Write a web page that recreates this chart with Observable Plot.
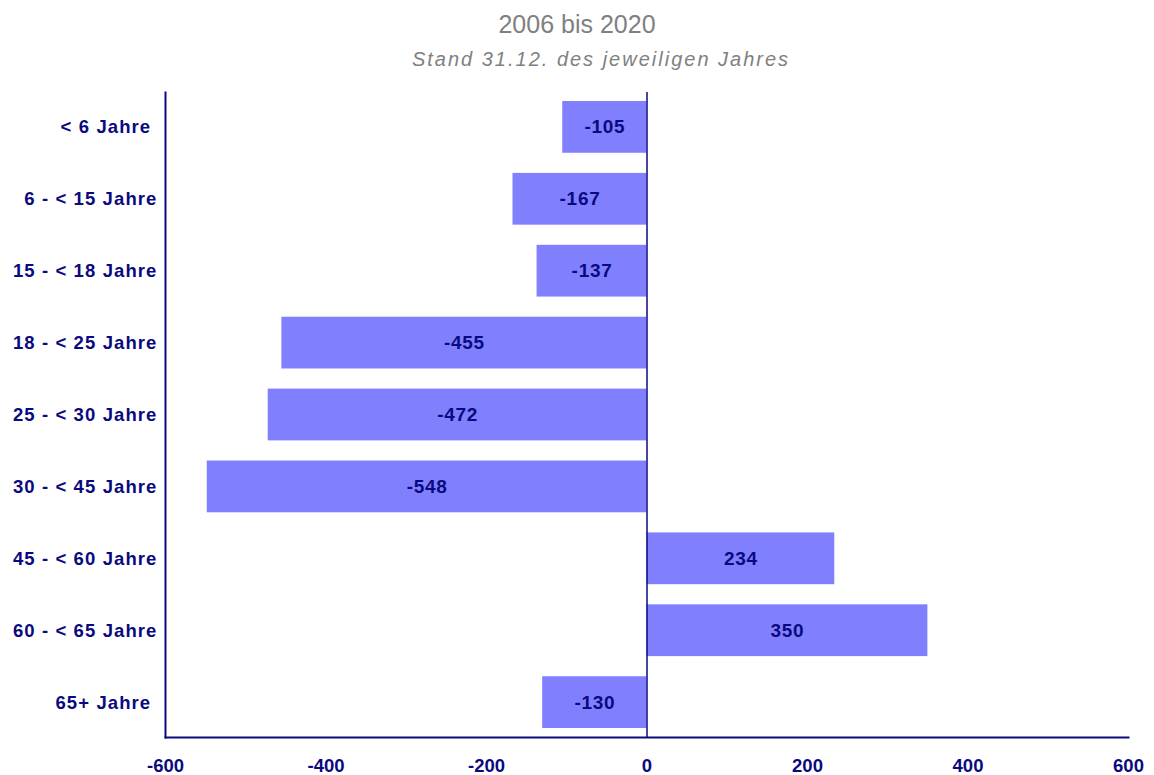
<!DOCTYPE html>
<html>
<head>
<meta charset="utf-8">
<script src="https://cdn.jsdelivr.net/npm/d3@7"></script>
<script src="https://cdn.jsdelivr.net/npm/@observablehq/plot@0.6"></script>
<style>
  html, body { margin: 0; padding: 0; background: #fff; }
  #header { width: 1154px; height: 80px; position: relative; font-family: "Liberation Sans", Arial, sans-serif; color: #808080; }
  #title { position: absolute; top: 9px; width: 100%; text-align: center; font-size: 25px; line-height: 30px; }
  #subtitle { position: absolute; top: 47px; left: 24px; width: 100%; text-align: center; font-size: 20px; line-height: 24px; font-style: italic; letter-spacing: 2px; }
  #chart svg text { font-family: "Liberation Sans", Arial, sans-serif; }
</style>
</head>
<body>
<div id="header">
  <div id="title">2006 bis 2020</div>
  <div id="subtitle">Stand 31.12. des jeweiligen Jahres</div>
</div>
<div id="chart"></div>
<script>
const categories = ["< 6 Jahre", "6 - < 15 Jahre", "15 - < 18 Jahre", "18 - < 25 Jahre", "25 - < 30 Jahre", "30 - < 45 Jahre", "45 - < 60 Jahre", "60 - < 65 Jahre", "65+ Jahre"];
const values = [-105, -167, -137, -455, -472, -548, 234, 350, -130];
const xTicks = [-600, -400, -200, 0, 200, 400, 600];
const trailingSpace = ["< 6 Jahre", "65+ Jahre"];

const navy = "#0a0a80";
const barColor = "#8080ff";
const data = categories.map((c, i) => ({cat: c, value: values[i]}));

const chart = Plot.plot({
  width: 1154,
  height: 695,
  marginTop: 12,
  marginBottom: 38,
  marginLeft: 165,
  marginRight: 26,
  style: {background: "#fff", color: navy},
  x: {domain: [-600, 600]},
  y: {domain: categories, paddingInner: 0.28, paddingOuter: 0.125, round: false},
  marks: [
    Plot.barX(data, {x: "value", y: "cat", fill: barColor}),
    Plot.text(data, {x: d => d.value / 2, y: "cat", text: d => String(d.value), fill: navy, fontSize: 19, fontWeight: "bold"}),
    Plot.ruleX([0], {stroke: navy, strokeWidth: 1.5}),
    Plot.frame({anchor: "left", stroke: navy, strokeWidth: 2}),
    Plot.frame({anchor: "bottom", stroke: navy, strokeWidth: 2}),
    Plot.axisY({tickSize: 0, tickPadding: 8, fontSize: 18.5, fontWeight: "bold", fill: navy, label: null,
      tickFormat: d => trailingSpace.includes(d) ? d + "\u00a0" : d}),
    Plot.axisX({ticks: xTicks, tickSize: 0, tickPadding: 21, fontSize: 18.5, fontWeight: "bold", fill: navy, label: null,
      tickFormat: d => String(d)})
  ]
});
document.getElementById("chart").appendChild(chart);
d3.select(chart).selectAll('g[aria-label="y-axis tick label"] text').style("letter-spacing", "1.1px");
d3.select(chart).selectAll('g[aria-label="text"] text').style("letter-spacing", "0.7px");
</script>
</body>
</html>
